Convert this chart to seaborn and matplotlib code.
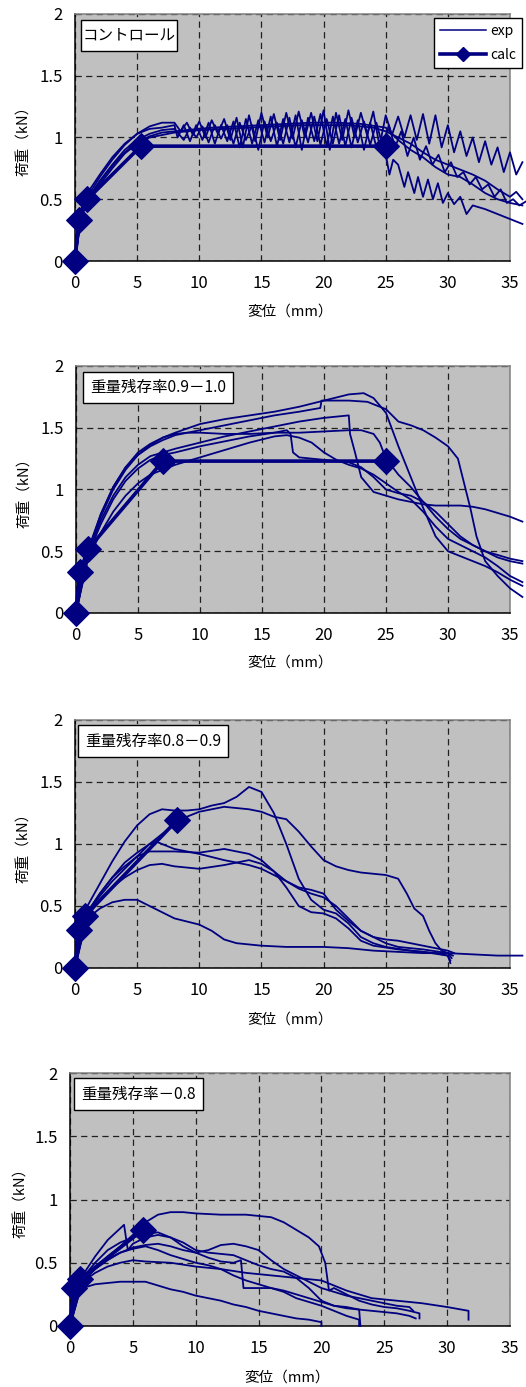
import numpy as np
import pandas as pd
import matplotlib
matplotlib.use("Agg")
import matplotlib.pyplot as plt
from matplotlib.lines import Line2D
from matplotlib.patches import Rectangle
import seaborn as sns

plt.rcParams['font.family'] = ['Noto Sans CJK JP', 'DejaVu Sans']

NAVY = '#000080'

# ---------------- data (displacement mm, load kN) ----------------
titles = ['コントロール', '重量残存率0.9－1.0', '重量残存率0.8－0.9', '重量残存率－0.8']

# panel 1 : control
ctrl_exp_x = [
    [0, 0.5, 1, 2, 3, 4, 5, 6, 7, 8, 8.5, 9, 9.5, 10, 10.5, 11, 11.5, 12, 12.5, 13, 13.5, 14, 14.5, 15,
     15.5, 16, 16.5, 17, 17.5, 18, 18.5, 19, 19.5, 20, 20.5, 21, 21.5, 22, 22.5, 23, 23.5, 24, 24.5, 25,
     25.5, 26, 26.5, 27, 27.5, 28, 28.5, 29, 29.5, 30, 30.5, 31, 31.5, 32, 32.5, 33, 33.5, 34, 34.5, 35,
     35.5, 36],
    [0, 0.5, 1, 2, 3, 4, 5, 6, 7, 8, 8.25, 8.75, 9.25, 9.75, 10.25, 10.75, 11.25, 11.75, 12.25, 12.75,
     13.25, 13.75, 14.25, 14.75, 15.25, 15.75, 16.25, 16.75, 17.25, 17.75, 18.25, 18.75, 19.25, 19.75,
     20.25, 20.75, 21.25, 21.75, 22.25, 22.75, 23.25, 23.75, 24.25, 24.75,
     25.3, 25.6, 26, 26.5, 26.8, 27.3, 27.6, 28, 28.4, 28.8, 29.2, 29.6, 30, 30.5, 31, 31.5, 32, 33, 34,
     35, 36],
    [0, 0.5, 1, 2, 3, 4, 5, 6, 7, 8, 8.75, 9.25, 9.75, 10.25, 10.75, 11.25, 11.75, 12.25, 12.75, 13.25,
     13.75, 14.25, 14.75, 15.25, 15.75, 16.25, 16.75, 17.25, 17.75, 18.25, 18.75, 19.25, 19.75, 20.25,
     20.75, 21.25, 21.75, 22.25, 22.75, 23.25, 23.75, 24.25, 24.75, 25.25, 25.75, 26.25, 26.75, 27.25,
     27.75, 28.25, 28.75, 29.25, 29.75, 30.25, 30.75, 31.25, 31.75, 32.25, 32.75, 33.25, 33.75, 34.25,
     34.75, 35.25, 35.75, 36.25],
    [0, 0.5, 1, 2, 3, 4, 5, 6, 7, 8, 9, 10, 12, 14, 16, 18, 20, 22, 24, 25, 26, 27, 28, 29, 30, 31, 32,
     33, 34, 35, 35.5, 36],
    [0, 0.5, 1, 2, 3, 4, 5, 6, 7, 9, 11, 13, 15, 17, 19, 21, 23, 25, 26, 27, 28, 29, 30, 31, 32, 33, 34,
     35, 36],
]
ctrl_exp_y = [
    [0, 0.4, 0.52, 0.68, 0.82, 0.94, 1.03, 1.09, 1.12, 1.12, 1.05, 1.12, 1.02, 1.13, 1.0, 1.14, 1.03,
     1.15, 0.98, 1.16, 0.92, 1.18, 0.97, 1.2, 1.0, 1.19, 0.98, 1.2, 0.99, 1.21, 1.0, 1.2, 0.97, 1.22, 0.9,
     1.2, 0.98, 1.22, 1.0, 1.2, 1.02, 1.21, 0.93, 1.18, 1.02, 1.17, 1.0, 1.18, 0.98, 1.19, 0.95, 1.18,
     0.92, 1.1, 0.88, 1.05, 0.85, 1.0, 0.8, 0.97, 0.78, 0.92, 0.72, 0.88, 0.7, 0.8],
    [0, 0.42, 0.55, 0.7, 0.84, 0.95, 1.03, 1.07, 1.08, 1.1, 1.0, 1.1, 0.97, 1.1, 0.98, 1.12, 0.95, 1.1,
     0.97, 1.13, 0.92, 1.15, 0.95, 1.14, 0.96, 1.17, 0.93, 1.15, 0.96, 1.18, 0.9, 1.16, 0.97, 1.19,
     0.93, 1.17, 0.95, 1.15, 0.92, 1.14, 0.9, 1.12, 0.92, 1.0, 0.7, 0.82, 0.78, 0.6, 0.72, 0.55, 0.68,
     0.52, 0.66, 0.5, 0.63, 0.47, 0.55, 0.46, 0.52, 0.38, 0.45, 0.42, 0.38, 0.34, 0.3],
    [0, 0.38, 0.5, 0.65, 0.78, 0.9, 0.98, 1.03, 1.06, 1.07, 0.98, 1.08, 1.0, 1.09, 0.96, 1.1, 0.99, 1.1,
     0.95, 1.12, 0.98, 1.1, 0.9, 1.13, 0.97, 1.12, 0.95, 1.16, 0.92, 1.14, 0.96, 1.17, 0.94, 1.15, 0.95,
     1.18, 0.93, 1.16, 0.96, 1.13, 0.94, 1.12, 0.93, 1.1, 0.92, 1.05, 0.85, 1.0, 0.82, 0.93, 0.78, 0.86,
     0.72, 0.8, 0.68, 0.72, 0.62, 0.68, 0.58, 0.62, 0.52, 0.58, 0.47, 0.5, 0.45, 0.48],
    [0, 0.36, 0.47, 0.62, 0.75, 0.87, 0.95, 1.0, 1.02, 1.04, 1.05, 1.06, 1.07, 1.08, 1.09, 1.1, 1.1, 1.1,
     1.08, 1.05, 1.0, 0.95, 0.88, 0.82, 0.78, 0.74, 0.7, 0.65, 0.58, 0.52, 0.56, 0.5],
    [0, 0.37, 0.49, 0.64, 0.77, 0.88, 0.96, 1.01, 1.04, 1.06, 1.08, 1.09, 1.1, 1.11, 1.12, 1.12, 1.11,
     1.08, 0.98, 0.9, 0.84, 0.76, 0.7, 0.68, 0.62, 0.55, 0.5, 0.47, 0.45],
]
ctrl_calc_x = [0, 0.3, 1, 5.3, 25]
ctrl_calc_y = [0, 0.33, 0.5, 0.93, 0.93]

# panel 2 : 0.9-1.0
r90_exp_x = [
    [0, 0.5, 1, 2, 3, 4, 5, 6, 7, 8, 10, 12, 14, 16, 18, 20, 22, 23.2, 24, 25, 26, 27, 28, 29, 30, 31,
     32, 33, 34, 35, 36],
    [0, 1, 2, 3, 4, 5, 6, 7, 8, 10, 12, 14, 16, 18, 19.7, 19.8, 22, 23.5, 25, 26, 27, 28, 29, 30, 30.8,
     31.3, 31.8, 32.3, 33, 34, 35, 36],
    [0, 1, 2, 3, 4, 5, 6, 7, 8, 10, 12, 14, 16, 18, 20, 22, 22.1, 22.5, 23, 24, 25, 26, 27, 28, 29, 30,
     31, 32, 33, 34, 35, 36],
    [0, 1, 2, 3, 4, 5, 6, 7, 8, 10, 12, 14, 16, 17, 17.3, 17.5, 18, 20, 22, 23, 24, 25, 26, 27, 28, 29,
     30, 31, 32, 33, 34, 35, 36],
    [0, 1, 2, 3, 4, 5, 6, 7, 8, 9, 10, 12, 14, 16, 18, 20, 22, 23, 24, 24.5, 25, 26, 27, 28, 29, 30, 31,
     32, 33, 34, 35, 36],
    [0, 1, 2, 3, 4, 5, 6, 7, 8, 10, 12, 14, 16, 17, 18, 19, 20, 21, 22, 23, 24, 25, 26, 27, 28, 29, 30,
     31, 32, 33, 34, 35, 36],
]
r90_exp_y = [
    [0, 0.35, 0.52, 0.8, 1.02, 1.18, 1.3, 1.37, 1.42, 1.46, 1.53, 1.57, 1.6, 1.63, 1.67, 1.72, 1.77,
     1.78, 1.74, 1.62, 1.35, 1.1, 0.85, 0.62, 0.5, 0.46, 0.42, 0.38, 0.33, 0.27, 0.22],
    [0, 0.5, 0.78, 1.0, 1.16, 1.28, 1.35, 1.4, 1.44, 1.48, 1.52, 1.56, 1.6, 1.63, 1.66, 1.72, 1.72,
     1.71, 1.65, 1.55, 1.52, 1.48, 1.42, 1.35, 1.25, 1.05, 0.85, 0.62, 0.42, 0.3, 0.2, 0.13],
    [0, 0.5, 0.75, 0.95, 1.1, 1.2, 1.27, 1.3, 1.33, 1.38, 1.43, 1.47, 1.51, 1.55, 1.58, 1.6, 1.45, 1.3,
     1.1, 0.98, 0.95, 0.92, 0.9, 0.88, 0.87, 0.87, 0.87, 0.86, 0.84, 0.81, 0.78, 0.74],
    [0, 0.48, 0.72, 0.92, 1.07, 1.17, 1.24, 1.28, 1.3, 1.35, 1.39, 1.43, 1.46, 1.48, 1.45, 1.3, 1.26,
     1.24, 1.22, 1.18, 1.1, 1.0, 0.97, 0.95, 0.9, 0.82, 0.72, 0.62, 0.55, 0.5, 0.45, 0.42, 0.4],
    [0, 0.5, 0.8, 1.02, 1.18, 1.28, 1.36, 1.42, 1.45, 1.46, 1.46, 1.45, 1.45, 1.46, 1.46, 1.47, 1.48,
     1.48, 1.45, 1.38, 1.25, 1.12, 1.02, 0.9, 0.78, 0.68, 0.6, 0.55, 0.5, 0.47, 0.44, 0.42],
    [0, 0.45, 0.65, 0.82, 0.95, 1.05, 1.12, 1.16, 1.2, 1.26, 1.32, 1.38, 1.43, 1.44, 1.42, 1.38, 1.3,
     1.24, 1.2, 1.17, 1.12, 1.05, 0.98, 0.92, 0.82, 0.7, 0.6, 0.55, 0.5, 0.45, 0.38, 0.3, 0.25],
]
r90_calc_x = [0, 0.3, 1, 7, 25]
r90_calc_y = [0, 0.33, 0.52, 1.23, 1.23]

# panel 3 : 0.8-0.9
r80_exp_x = [
    [0, 0.5, 1, 2, 3, 4, 5, 6, 7, 8, 9, 10, 11, 12, 13, 14, 15, 16, 17, 18, 19, 20, 21, 22, 23, 24, 25,
     27, 29, 30, 30.2],
    [0, 0.5, 1, 2, 3, 4, 5, 6, 7, 8, 9, 10, 12, 14, 15, 16, 17, 18, 19, 20, 21, 22, 23, 24, 25, 26,
     26.7, 27.3, 28, 28.5, 29, 29.5, 30, 30.4],
    [0, 1, 2, 3, 4, 5, 6, 6.5, 7, 8, 10, 12, 14, 15, 16, 17, 18, 19, 20, 21, 22, 23, 24, 25, 26, 28, 30,
     30.3],
    [0, 1, 2, 3, 4, 5, 6, 8, 10, 12, 14, 15, 16, 17, 18, 19, 20, 21, 22, 23, 24, 26, 28, 30, 30.2],
    [0, 1, 2, 3, 4, 5, 6, 7, 8, 10, 12, 14, 15, 16, 17, 18, 19, 20, 21, 22, 23, 24, 25, 26, 28, 30,
     30.5],
    [0, 0.5, 1, 2, 3, 4, 5, 6, 7, 8, 10, 11, 12, 13, 15, 17, 20, 22, 24, 26, 28, 30, 32, 34, 36],
]
r80_exp_y = [
    [0, 0.38, 0.5, 0.68, 0.86, 1.02, 1.15, 1.24, 1.28, 1.27, 1.27, 1.28, 1.31, 1.33, 1.38, 1.46, 1.42,
     1.25, 1.0, 0.72, 0.55, 0.47, 0.44, 0.36, 0.25, 0.2, 0.17, 0.14, 0.12, 0.1, 0.04],
    [0, 0.34, 0.45, 0.58, 0.7, 0.8, 0.9, 1.0, 1.08, 1.16, 1.22, 1.26, 1.3, 1.28, 1.26, 1.22, 1.2, 1.1,
     0.98, 0.87, 0.82, 0.79, 0.77, 0.76, 0.75, 0.72, 0.6, 0.48, 0.42, 0.3, 0.2, 0.14, 0.12, 0.1],
    [0, 0.45, 0.6, 0.73, 0.85, 0.93, 1.0, 1.02, 1.0, 0.96, 0.92, 0.87, 0.83, 0.8, 0.75, 0.7, 0.64, 0.6,
     0.57, 0.5, 0.4, 0.3, 0.25, 0.2, 0.17, 0.15, 0.12, 0.08],
    [0, 0.45, 0.6, 0.73, 0.82, 0.9, 0.94, 0.94, 0.93, 0.96, 0.92, 0.87, 0.78, 0.65, 0.5, 0.45, 0.44,
     0.4, 0.32, 0.22, 0.18, 0.15, 0.13, 0.1, 0.06],
    [0, 0.42, 0.55, 0.65, 0.73, 0.79, 0.83, 0.84, 0.82, 0.8, 0.83, 0.87, 0.84, 0.78, 0.7, 0.65, 0.63,
     0.6, 0.47, 0.38, 0.3, 0.25, 0.23, 0.22, 0.18, 0.14, 0.12],
    [0, 0.3, 0.4, 0.48, 0.53, 0.55, 0.55, 0.5, 0.45, 0.4, 0.35, 0.3, 0.23, 0.2, 0.18, 0.17, 0.17, 0.16,
     0.14, 0.13, 0.12, 0.12, 0.11, 0.1, 0.1],
]
r80_calc_x = [0, 0.3, 0.8, 8.2]
r80_calc_y = [0, 0.31, 0.42, 1.19]

# panel 4 : -0.8
rlow_exp_x = [
    [0, 0.3, 1, 2, 3, 4, 5, 6, 7, 8, 9, 10, 12, 14, 15, 16, 17, 18, 19, 19.8, 20.3, 20.6, 21, 22, 23,
     24, 25, 26, 27, 27.8, 27.8],
    [0, 0.3, 1, 2, 3, 4.3, 4.6, 5, 6, 7, 8, 9, 10, 11, 12, 13, 14, 15, 16, 17, 18, 19, 20, 21, 22, 24,
     26, 27, 27.5],
    [0, 0.5, 1, 2, 3, 4, 5, 6, 7, 8, 9, 10, 11, 12, 13, 14, 15, 16, 17, 18, 19, 20, 21, 22, 23, 24, 25,
     26, 27, 27.3],
    [0, 1, 2, 3, 4, 5, 6, 7, 8, 9, 10, 11, 12, 13, 13.6, 13.8, 15, 16, 17, 18, 19, 20, 21, 22, 23, 23.1],
    [0, 1, 2, 3, 4, 5, 6, 8, 10, 12, 14, 16, 18, 20, 21, 22, 24, 26, 28, 30, 31.7, 31.7],
    [0, 1, 2, 3, 4, 5, 6, 7, 8, 9, 10, 11, 12, 13, 14, 15, 16, 17, 18, 19, 20, 21, 22, 23, 23],
    [0, 0.5, 1, 2, 3, 4, 5, 6, 7, 8, 9, 10, 11, 12, 13, 14, 15, 16, 17, 18, 19, 20, 20],
]
rlow_exp_y = [
    [0, 0.25, 0.35, 0.45, 0.55, 0.63, 0.72, 0.82, 0.88, 0.9, 0.9, 0.89, 0.88, 0.88, 0.87, 0.86, 0.82,
     0.76, 0.7, 0.63, 0.5, 0.28, 0.3, 0.25, 0.2, 0.17, 0.15, 0.14, 0.12, 0.1, 0.06],
    [0, 0.28, 0.4, 0.55, 0.68, 0.8, 0.6, 0.65, 0.7, 0.72, 0.7, 0.66, 0.6, 0.58, 0.57, 0.56, 0.52, 0.48,
     0.45, 0.43, 0.38, 0.3, 0.2, 0.16, 0.14, 0.12, 0.1, 0.08, 0.06],
    [0, 0.3, 0.37, 0.45, 0.52, 0.58, 0.62, 0.64, 0.65, 0.63, 0.6, 0.58, 0.6, 0.64, 0.65, 0.63, 0.6,
     0.52, 0.45, 0.4, 0.35, 0.3, 0.27, 0.24, 0.22, 0.2, 0.18, 0.16, 0.15, 0.12],
    [0, 0.38, 0.5, 0.6, 0.66, 0.7, 0.73, 0.74, 0.7, 0.63, 0.58, 0.54, 0.51, 0.5, 0.52, 0.3, 0.3, 0.3,
     0.28, 0.25, 0.22, 0.19, 0.16, 0.15, 0.13, 0.0],
    [0, 0.35, 0.42, 0.47, 0.5, 0.52, 0.51, 0.5, 0.47, 0.45, 0.42, 0.4, 0.38, 0.36, 0.32, 0.28, 0.22,
     0.2, 0.18, 0.15, 0.12, 0.05],
    [0, 0.36, 0.45, 0.53, 0.58, 0.61, 0.63, 0.6, 0.56, 0.53, 0.5, 0.48, 0.45, 0.4, 0.36, 0.33, 0.3,
     0.27, 0.22, 0.19, 0.16, 0.12, 0.08, 0.05, 0.0],
    [0, 0.25, 0.3, 0.33, 0.34, 0.35, 0.35, 0.35, 0.32, 0.29, 0.27, 0.24, 0.22, 0.2, 0.17, 0.15, 0.12,
     0.1, 0.08, 0.06, 0.05, 0.03, 0.0],
]
rlow_calc_x = [0, 0.3, 0.8, 5.8]
rlow_calc_y = [0, 0.3, 0.37, 0.76]

x_ticks = [0, 5, 10, 15, 20, 25, 30, 35]
y_ticks = [0, 0.5, 1, 1.5, 2]
y_ticklabels = ['0', '0.5', '1', '1.5', '2']

# ---------------- layout ----------------
W, H = 526, 1387
fig = plt.figure(figsize=(W / 100, H / 100), dpi=100)

# plot areas (left, top, right, bottom) in px
boxes = [(75, 14, 510, 261), (76, 366, 510, 613), (75, 720, 510, 968), (70, 1073, 510, 1326)]
# title boxes in axes fractions (x0, y0, x1, y1)
title_boxes = [(0.0138, 0.850, 0.2345, 0.976), (0.0161, 0.850, 0.3618, 0.976),
               (0.0069, 0.851, 0.3517, 0.980), (0.0091, 0.854, 0.3023, 0.980)]
ylab_x = [-0.1, -0.1, -0.1, -0.095]
xlab_y = [-0.178, -0.174, -0.181, -0.178]

panels = [
    (ctrl_exp_x, ctrl_exp_y, ctrl_calc_x, ctrl_calc_y),
    (r90_exp_x, r90_exp_y, r90_calc_x, r90_calc_y),
    (r80_exp_x, r80_exp_y, r80_calc_x, r80_calc_y),
    (rlow_exp_x, rlow_exp_y, rlow_calc_x, rlow_calc_y),
]

for i, (ex, ey, cx, cy) in enumerate(panels):
    l, t, r, b = boxes[i]
    ax = fig.add_axes([l / W, 1 - b / H, (r - l) / W, (b - t) / H])
    ax.set_facecolor('#c0c0c0')

    for xs, ys in zip(ex, ey):
        sns.lineplot(x=xs, y=ys, ax=ax, color=NAVY, lw=1.3, sort=False,
                     estimator=None, clip_on=False, zorder=3)
    sns.lineplot(x=cx, y=cy, ax=ax, color=NAVY, lw=2.6, sort=False, estimator=None,
                 marker='D', markersize=13.5, markeredgecolor=NAVY, clip_on=False, zorder=4)

    ax.set_xlim(0, 35)
    ax.set_ylim(0, 2)
    ax.set_xticks(x_ticks)
    ax.set_yticks(y_ticks)
    ax.set_yticklabels(y_ticklabels)
    ax.tick_params(axis='x', length=0, pad=10, labelsize=12)
    ax.tick_params(axis='y', length=0, pad=9, labelsize=12)
    ax.grid(True, color='#202020', linestyle=(0, (5, 3.5)), lw=0.9)
    ax.set_axisbelow(True)
    for s in ['left', 'bottom']:
        ax.spines[s].set_color('#000000')
        ax.spines[s].set_linewidth(1.1)
    for s in ['top', 'right']:
        ax.spines[s].set_color('#808080')
        ax.spines[s].set_linewidth(1.1)

    ax.set_xlabel('変位（mm）', fontsize=10.5)
    ax.set_ylabel('荷重（kN）', fontsize=10.5)
    ax.xaxis.set_label_coords(0.494, xlab_y[i])
    ax.yaxis.set_label_coords(ylab_x[i], 0.5)

    x0, y0, x1, y1 = title_boxes[i]
    ax.add_patch(Rectangle((x0, y0), x1 - x0, y1 - y0, transform=ax.transAxes,
                           facecolor='white', edgecolor='black', lw=1, zorder=6))
    ax.text((x0 + x1) / 2, (y0 + y1) / 2, titles[i], transform=ax.transAxes,
            ha='center', va='center', fontsize=11.2, zorder=7)

    if i == 0:
        handles = [Line2D([], [], color=NAVY, lw=1.1),
                   Line2D([], [], color=NAVY, lw=2.6, marker='D', markersize=7)]
        leg = ax.legend(handles, ['exp', 'calc'], loc='upper right',
                        bbox_to_anchor=(1.028, 0.984), borderaxespad=0, fancybox=False,
                        framealpha=1, edgecolor='black', fontsize=10, handlelength=3.3,
                        handletextpad=0.3, labelspacing=0.7, borderpad=0.45)
        leg.get_frame().set_linewidth(1)
        leg.set_zorder(10)
    else:
        if ax.get_legend() is not None:
            ax.get_legend().remove()

fig.savefig('out.png', dpi=100)
